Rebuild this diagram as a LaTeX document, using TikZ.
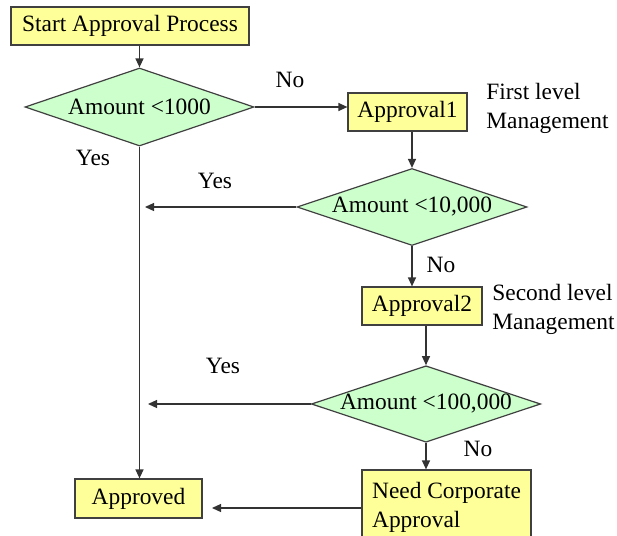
\documentclass[tikz,border=0pt]{standalone}
\usepackage{fontspec}
\setmainfont{Liberation Serif}
\usetikzlibrary{shapes.geometric,arrows.meta}
\definecolor{boxyellow}{RGB}{255,255,153}
\definecolor{diagreen}{RGB}{204,255,204}

\begin{document}
\begin{tikzpicture}[x=0.5pt,y=-0.5pt,
    font=\rmfamily\fontsize{11.7}{14.5}\selectfont,
    every node/.style={inner sep=0pt},
    stepbox/.style={draw=black!75,fill=boxyellow,line width=0.6pt},
    decide/.style={diamond,aspect=3,draw=black!75,fill=diagreen,line width=0.6pt},
    flow/.style={draw=black!80,line width=0.6pt,-{Triangle[length=4.5pt,width=4pt]}}]
            \useasboundingbox (0,0) rectangle (617,536);
            \clip (0,0) rectangle (617,536);
            \node[stepbox,minimum width=119pt,minimum height=19pt] (start) at (130,26) {Start Approval Process};
            \node[decide,minimum width=114.5pt,minimum height=39pt] (amt1) at (139.5,107) {Amount <1000};
            \node[stepbox,minimum width=59.5pt,minimum height=19pt] (app1) at (407.5,112) {Approval1};
            \node[decide,minimum width=115pt,minimum height=38.5pt] (amt2) at (412,207) {Amount <10,000};
            \node[stepbox,minimum width=60pt,minimum height=19pt] (app2) at (422,306) {Approval2};
            \node[decide,minimum width=114pt,minimum height=38pt] (amt3) at (426,404) {Amount <100,000};
            \node[stepbox,minimum width=63.5pt,minimum height=19.5pt] (done) at (138.5,498.5) {Approved};
            \node[stepbox,align=left,minimum width=84.5pt,minimum height=37.5pt] (corp) at (446.5,507.5) {Need Corporate\\Approval};
            \node[anchor=west,align=left] (lvl1) at (486,108) {First level\\Management};
            \node[anchor=west,align=left] (lvl2) at (492,309) {Second level\\Management};
            \node (no1) at (290,80) {No};
            \node (yes1) at (93,158) {Yes};
            \node (yes2) at (215,181) {Yes};
            \node (no2) at (441,265) {No};
            \node (yes3) at (223,366) {Yes};
            \node (no3) at (478,449) {No};
            \coordinate (end2) at (145,207);
            \coordinate (end3) at (148,404);
            \coordinate (end4) at (212,508);
            \draw[flow] (start.south -| amt1.north) -- (amt1.north);
            \draw[flow] (amt1.east) -- (amt1.east -| app1.west);
            \draw[flow] (app1.south -| amt2.north) -- (amt2.north);
            \draw[flow] (amt2.west) -- (end2);
            \draw[flow] (amt1.south) -- (amt1.south |- done.north);
            \draw[flow] (amt2.south) -- (amt2.south |- app2.north);
            \draw[flow] (app2.south -| amt3.north) -- (amt3.north);
            \draw[flow] (amt3.west) -- (end3);
            \draw[flow] (amt3.south) -- (amt3.south |- corp.north);
            \draw[flow] (corp.west |- end4) -- (end4);
        \end{tikzpicture}
\end{document}
